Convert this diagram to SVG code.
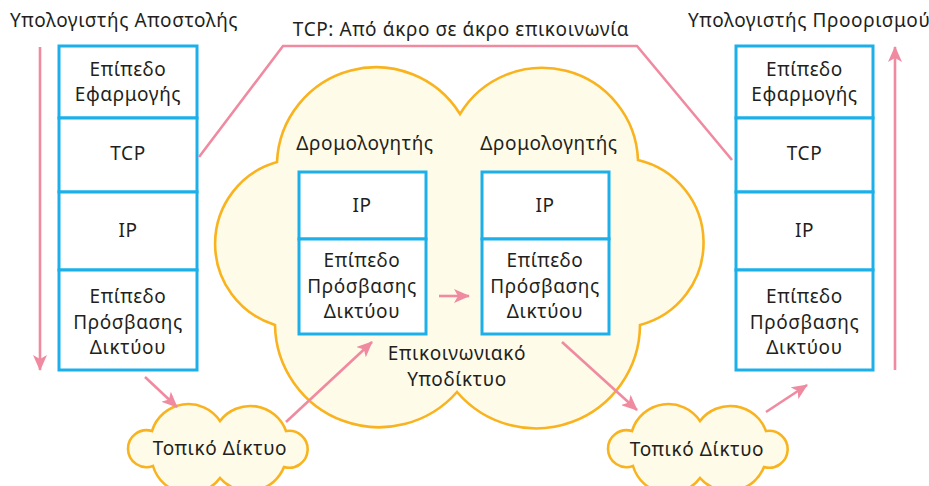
<svg xmlns="http://www.w3.org/2000/svg" xmlns:xlink="http://www.w3.org/1999/xlink" width="929" height="486" viewBox="0 0 929 486">
<style>
text{font-family:"Noto Sans","Open Sans","DejaVu Sans",sans-serif;font-size:19px;letter-spacing:0.6px;fill:#231f20;text-anchor:middle}
.lbl{text-anchor:start}
.box{fill:#ffffff;stroke:#1cb0ea;stroke-width:3}
.cloud{fill:#fffbe9;stroke:#f8b31e;stroke-width:2.6}
.arr{fill:none;stroke:#f08aa0;stroke-width:2.6}
</style>
<defs>
<marker id="ah" markerUnits="userSpaceOnUse" markerWidth="16" markerHeight="14" viewBox="0 0 16 14" refX="15" refY="7" orient="auto">
<path d="M0,0 L16,7 L0,14 L4,7 Z" fill="#f08aa0"/>
</marker>
<path id="small" d="M152 431 A38 38 0 0 1 220 421 A38 38 0 0 1 286 431 A18.5 18.5 0 1 1 284 467 A38 38 0 0 1 220 478 A38 38 0 0 1 153 466 A18.5 18.5 0 1 1 152 431 Z"/>
</defs>

<g id="subnet">
<path class="cloud" d="M277 162 A99 99 0 0 1 460 114 A96 96 0 0 1 638 160 A85 85 0 0 1 640 325 A104 104 0 0 1 457 392 A104 104 0 0 1 275 325 A85 85 0 0 1 277 162 Z"/>
<text x="457" y="360">Επικοινωνιακό</text>
<text x="457" y="386">Υποδίκτυο</text>
</g>

<g id="lan-left">
<use xlink:href="#small" class="cloud"/>
<text x="220" y="455">Τοπικό Δίκτυο</text>
</g>
<g id="lan-right">
<use xlink:href="#small" class="cloud" transform="translate(480,0)"/>
<text x="697" y="456">Τοπικό Δίκτυο</text>
</g>

<g id="sender">
<text class="lbl" x="10" y="27">Υπολογιστής Αποστολής</text>
<rect class="box" x="59" y="46" width="138" height="72"/>
<rect class="box" x="59" y="118" width="138" height="74"/>
<rect class="box" x="59" y="192" width="138" height="78"/>
<rect class="box" x="59" y="270" width="138" height="100"/>
<text x="128" y="76">Επίπεδο</text>
<text x="128" y="101">Εφαρμογής</text>
<text x="128" y="160">TCP</text>
<text x="128" y="237">IP</text>
<text x="128" y="303">Επίπεδο</text>
<text x="128" y="329">Πρόσβασης</text>
<text x="128" y="354">Δικτύου</text>
</g>

<g id="router1">
<text x="365" y="150">Δρομολογητής</text>
<rect class="box" x="299" y="172" width="127" height="67"/>
<rect class="box" x="299" y="239" width="127" height="95"/>
<text x="362" y="212">IP</text>
<text x="362" y="267">Επίπεδο</text>
<text x="362" y="293">Πρόσβασης</text>
<text x="362" y="318">Δικτύου</text>
</g>

<g id="router2">
<text x="549" y="150">Δρομολογητής</text>
<rect class="box" x="482" y="172" width="127" height="67"/>
<rect class="box" x="482" y="239" width="127" height="95"/>
<text x="545" y="212">IP</text>
<text x="545" y="267">Επίπεδο</text>
<text x="545" y="293">Πρόσβασης</text>
<text x="545" y="318">Δικτύου</text>
</g>

<g id="receiver">
<text class="lbl" x="688" y="27">Υπολογιστής Προορισμού</text>
<rect class="box" x="736" y="46" width="137" height="72"/>
<rect class="box" x="736" y="118" width="137" height="74"/>
<rect class="box" x="736" y="192" width="137" height="78"/>
<rect class="box" x="736" y="270" width="137" height="100"/>
<text x="804.5" y="76">Επίπεδο</text>
<text x="804.5" y="101">Εφαρμογής</text>
<text x="804.5" y="160">TCP</text>
<text x="804.5" y="237">IP</text>
<text x="804.5" y="303">Επίπεδο</text>
<text x="804.5" y="329">Πρόσβασης</text>
<text x="804.5" y="354">Δικτύου</text>
</g>

<g id="connectors">
<polyline class="arr" points="199,157 283,46 637,46 732,160"/>
<text x="461" y="36">TCP: Από άκρο σε άκρο επικοινωνία</text>
<line class="arr" x1="40" y1="47" x2="40" y2="370" marker-end="url(#ah)"/>
<line class="arr" x1="895" y1="370" x2="895" y2="47" marker-end="url(#ah)"/>
<line class="arr" x1="145" y1="377" x2="177" y2="407" marker-end="url(#ah)"/>
<line class="arr" x1="286" y1="422" x2="372" y2="342" marker-end="url(#ah)"/>
<line class="arr" x1="439" y1="296" x2="469" y2="296" marker-end="url(#ah)"/>
<line class="arr" x1="562" y1="342" x2="637" y2="410" marker-end="url(#ah)"/>
<line class="arr" x1="766" y1="412" x2="807" y2="385" marker-end="url(#ah)"/>
</g>
</svg>
